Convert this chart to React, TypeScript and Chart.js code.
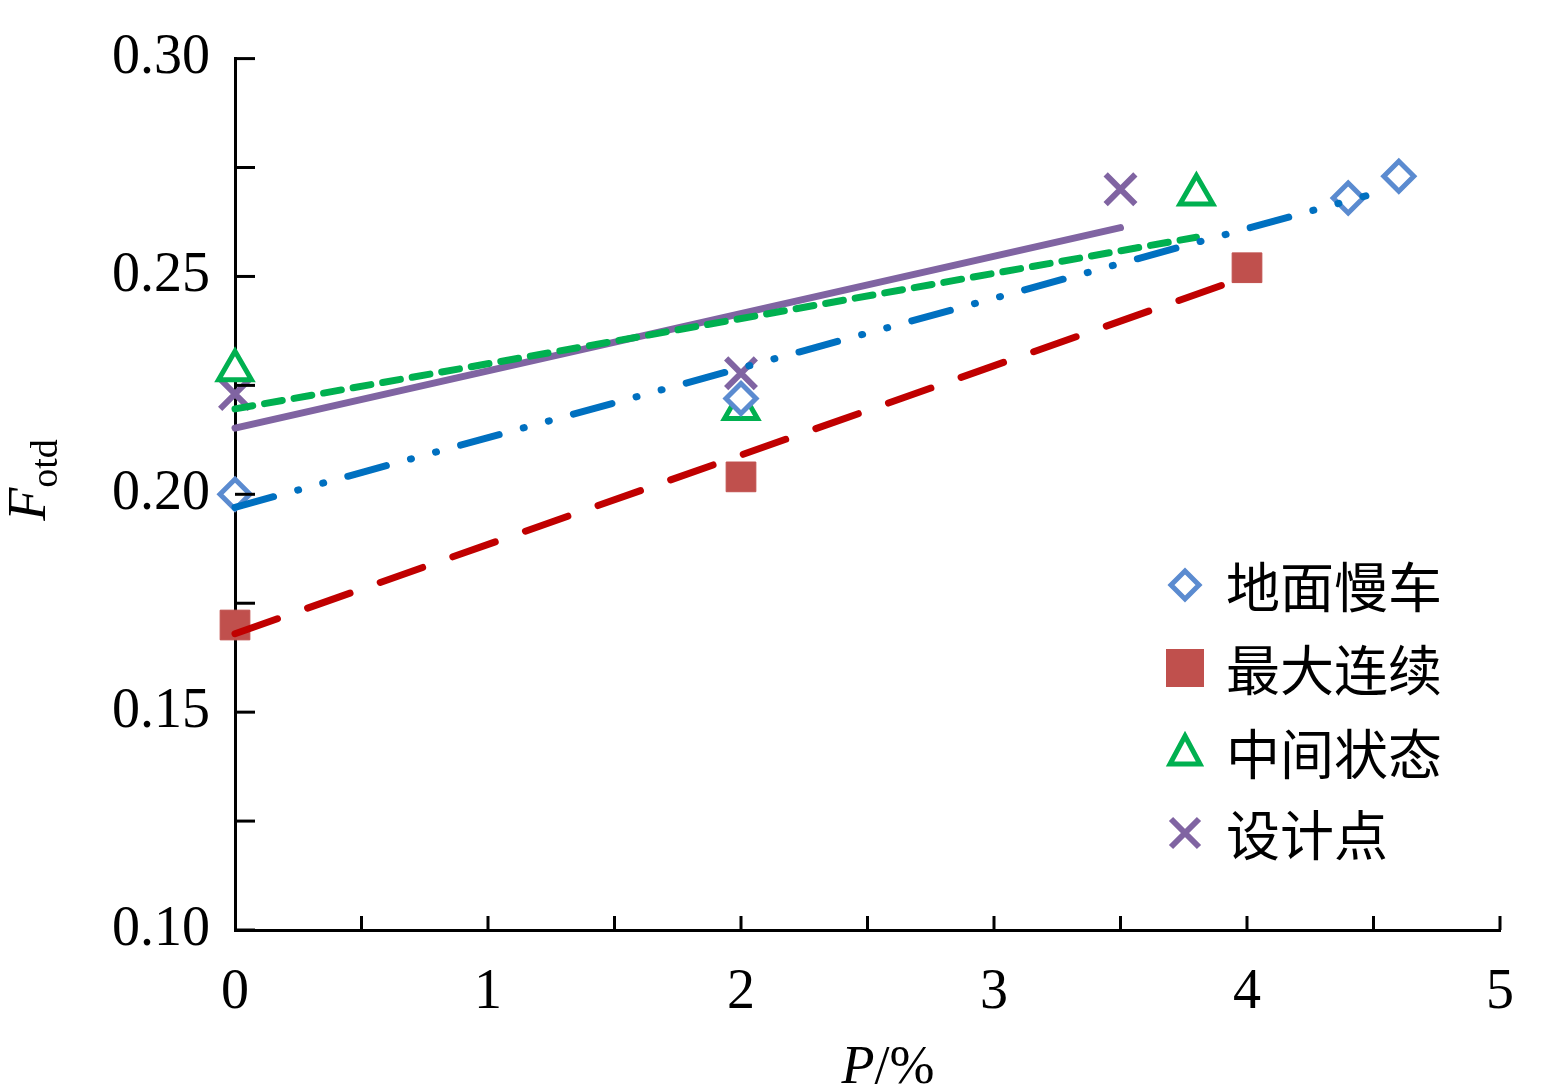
import React, { useEffect, useRef } from "react";
import { Chart, registerables } from "chart.js";
Chart.register(...registerables);

const slowX = [0, 2, 4.4, 4.6];
const slowY = [0.200, 0.222, 0.268, 0.273];
const maxX = [0, 2, 4];
const maxY = [0.170, 0.204, 0.252];
const midX = [0, 2, 3.8];
const midY = [0.2285, 0.2196, 0.2688];
const desX = [0, 2, 3.5];
const desY = [0.223, 0.2278, 0.270];
const slowFitX = [0, 4.47];
const slowFitY = [0.197, 0.2685];
const maxFitX = [0, 4];
const maxFitY = [0.168, 0.250];
const midFitX = [0, 3.8];
const midFitY = [0.2196, 0.259];
const desFitX = [0, 3.5];
const desFitY = [0.2152, 0.2612];
const legendLabels = ["地面慢车", "最大连续", "中间状态", "设计点"];

const BLUE = "#5B8BD0", RED = "#C0504D", GREEN = "#00B050", PURPLE = "#8064A2";
const pts = (xs: number[], ys: number[]) => xs.map((x, i) => ({ x, y: ys[i] }));

const serif = "'Liberation Serif', 'Times New Roman', serif";

const decor = {
  id: "decor",
  afterDraw(chart: any) {
    const { ctx, chartArea: a, scales } = chart;
    const xs = scales.x, ys = scales.y;
    ctx.save();
    ctx.strokeStyle = "#000"; ctx.lineWidth = 3;
    for (let v = 0.1; v <= 0.3001; v += 0.025) {
      const y = ys.getPixelForValue(v);
      ctx.beginPath(); ctx.moveTo(a.left, y); ctx.lineTo(a.left + 20, y); ctx.stroke();
    }
    for (let v = 0.5; v <= 5.001; v += 0.5) {
      const x = xs.getPixelForValue(v);
      ctx.beginPath(); ctx.moveTo(x, a.bottom); ctx.lineTo(x, a.bottom - 14); ctx.stroke();
    }
    ctx.fillStyle = "#000";
    ctx.textBaseline = "alphabetic";
    ctx.font = `italic 54px ${serif}`;
    const pw = ctx.measureText("P").width;
    ctx.font = `54px ${serif}`;
    const rw = ctx.measureText("/%").width;
    const sx = 888 - (pw + rw) / 2;
    ctx.font = `italic 54px ${serif}`; ctx.fillText("P", sx, 1083);
    ctx.font = `54px ${serif}`; ctx.fillText("/%", sx + pw, 1083);
    ctx.translate(45, 480); ctx.rotate(-Math.PI / 2);
    ctx.font = `italic 54px ${serif}`;
    const fw = ctx.measureText("F").width;
    ctx.font = `38px ${serif}`;
    const sw = ctx.measureText("otd").width;
    const st = -(fw + sw) / 2;
    ctx.font = `italic 54px ${serif}`; ctx.fillText("F", st, 0);
    ctx.font = `38px ${serif}`; ctx.fillText("otd", st + fw, 12);
    const dpr = chart.currentDevicePixelRatio || 1;
    ctx.setTransform(dpr, 0, 0, dpr, 0, 0);
    const rows = [585, 668, 752, 833];
    const mx = 1185;
    ctx.font = `54px 'Noto Sans CJK SC', sans-serif`;
    ctx.textBaseline = "middle";
    rows.forEach((y, i) => {
      ctx.fillStyle = "#000";
      ctx.fillText(legendLabels[i], 1226, y + 2);
      ctx.lineWidth = 5;
      if (i === 0) {
        ctx.strokeStyle = BLUE; ctx.beginPath();
        ctx.moveTo(mx, y - 14); ctx.lineTo(mx + 14, y); ctx.lineTo(mx, y + 14); ctx.lineTo(mx - 14, y); ctx.closePath(); ctx.stroke();
      } else if (i === 1) {
        ctx.fillStyle = RED; ctx.fillRect(mx - 19, y - 19, 38, 38);
      } else if (i === 2) {
        ctx.strokeStyle = GREEN; ctx.beginPath();
        ctx.moveTo(mx, y - 16); ctx.lineTo(mx + 15, y + 12); ctx.lineTo(mx - 15, y + 12); ctx.closePath(); ctx.stroke();
      } else {
        ctx.strokeStyle = PURPLE; ctx.lineWidth = 6; ctx.beginPath();
        ctx.moveTo(mx - 14, y - 14); ctx.lineTo(mx + 14, y + 14); ctx.moveTo(mx + 14, y - 14); ctx.lineTo(mx - 14, y + 14); ctx.stroke();
      }
    });
    ctx.restore();
  },
};

export default function App() {
  const ref = useRef<HTMLCanvasElement>(null);
  useEffect(() => {
    const fit = (data: any, color: string, dash: number[]) => ({
      type: "line", data, borderColor: color, borderWidth: 7, borderDash: dash,
      pointRadius: 0, showLine: true, fill: false, borderCapStyle: "round", clip: false,
    });
    const chart = new Chart(ref.current!, {
      type: "scatter",
      data: {
        datasets: [
          fit(pts(maxFitX, maxFitY), "#C00000", [45, 32]),
          fit(pts(slowFitX, slowFitY), "#0070C0", [40, 25, 1, 25, 1, 25]),
          fit(pts(midFitX, midFitY), GREEN, [18, 12]),
          fit(pts(desFitX, desFitY), PURPLE, []),
          { data: pts(slowX, slowY), pointStyle: "rectRot", pointRadius: 15, borderColor: BLUE, backgroundColor: "#fff", borderWidth: 5, clip: false },
          { data: pts(maxX, maxY), pointStyle: "rect", pointRadius: 21, borderColor: RED, backgroundColor: RED, borderWidth: 1, clip: false },
          { data: pts(midX, midY), pointStyle: "triangle", pointRadius: 19, borderColor: GREEN, backgroundColor: "#fff", borderWidth: 5, clip: false },
          { data: pts(desX, desY), pointStyle: "crossRot", pointRadius: 21, borderColor: PURPLE, borderWidth: 6, clip: false },
        ] as any,
      },
      options: {
        animation: false, responsive: false, maintainAspectRatio: false,
        layout: { padding: { top: -3, right: -20, left: 0, bottom: 0 } },
        plugins: { legend: { display: false }, tooltip: { enabled: false } },
        scales: {
          x: {
            type: "linear", min: 0, max: 5,
            ticks: { stepSize: 1, font: { family: serif, size: 56 }, color: "#000", padding: 30 },
            grid: { display: false, drawTicks: false },
            border: { display: true, color: "#000", width: 3 },
            afterFit: (s: any) => { s.height = 158; },
          },
          y: {
            min: 0.1, max: 0.3,
            ticks: { stepSize: 0.05, font: { family: serif, size: 56 }, color: "#000", padding: 25,
              callback: (v: any) => Number(v).toFixed(2) },
            grid: { display: false, drawTicks: false },
            border: { display: true, color: "#000", width: 3 },
            afterFit: (s: any) => { s.width = 235; },
          },
        },
      } as any,
      plugins: [decor],
    });
    return () => chart.destroy();
  }, []);
  return (
    <div style={{ position: "fixed", left: 0, top: 0, width: 1544, height: 1088, background: "#fff" }}>
      <canvas ref={ref} width={1544} height={1088} style={{ width: 1544, height: 1088 }} />
    </div>
  );
}
